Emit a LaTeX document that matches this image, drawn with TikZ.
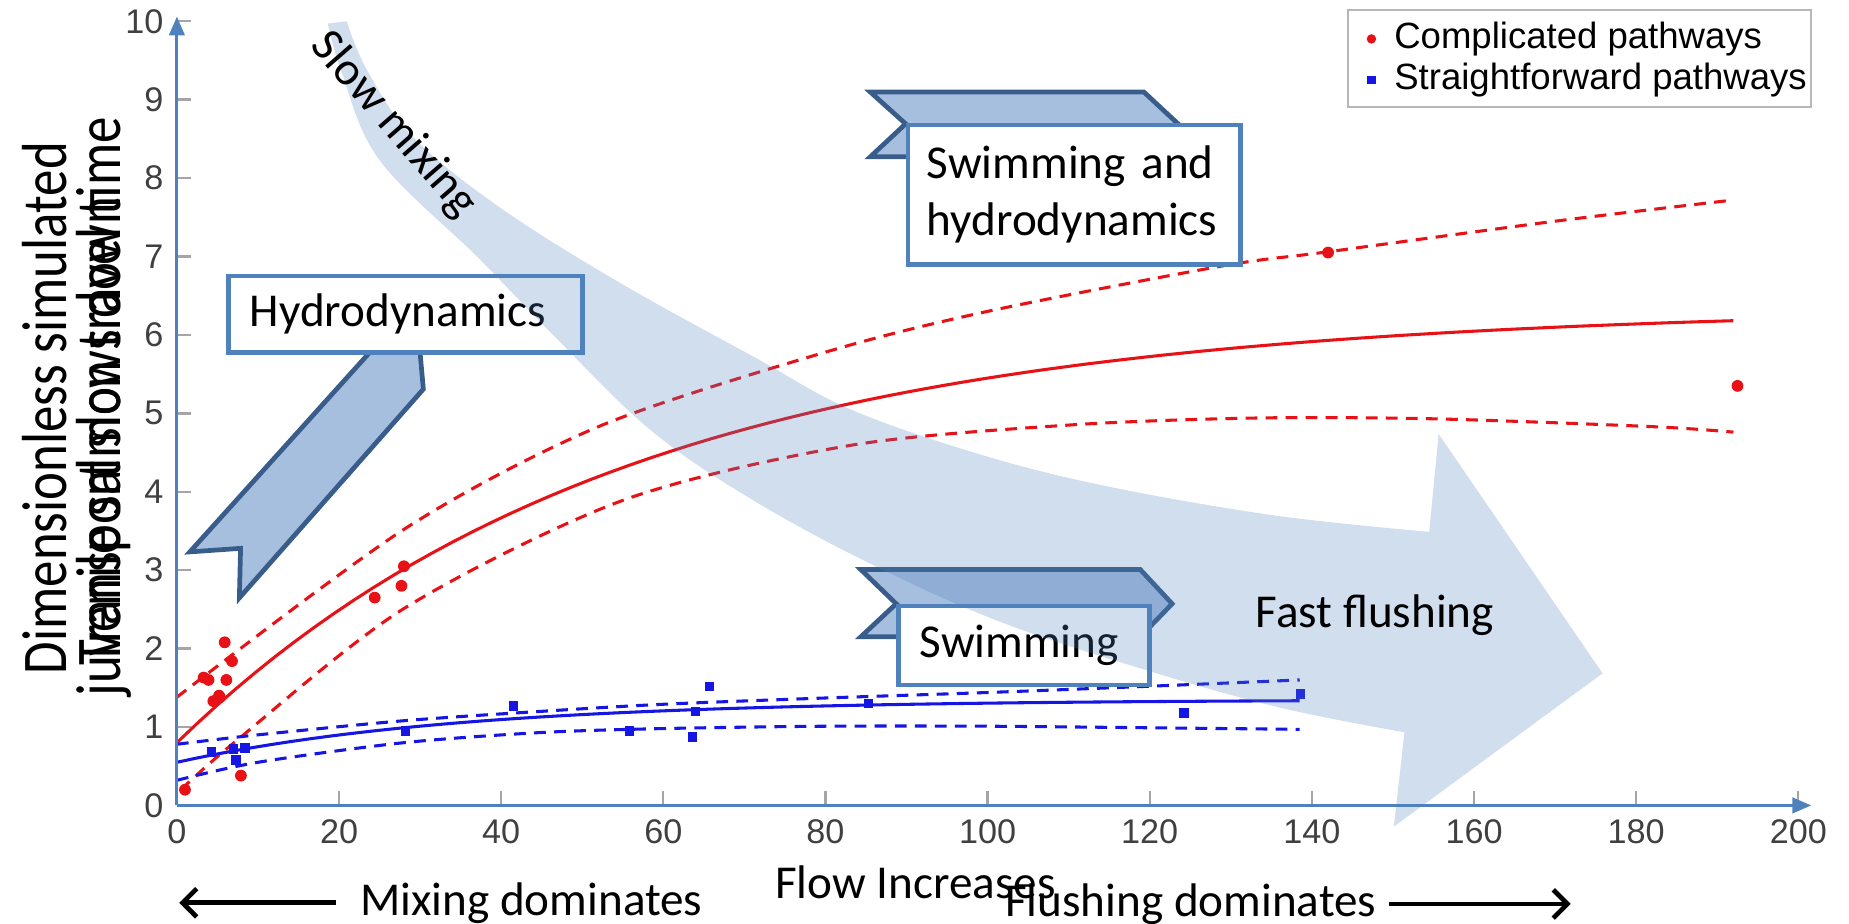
\documentclass[tikz,border=0pt]{standalone}
\usepackage{fontspec}
\setmainfont{Carlito}
\newfontfamily\axisfont{Liberation Sans}
\newfontfamily\ylabfont[FakeStretch=0.83]{Carlito}
\usetikzlibrary{arrows.meta,calc}
\definecolor{boxblue}{RGB}{79,129,189}
\definecolor{ribfill}{RGB}{167,191,222}
\definecolor{ribline}{RGB}{56,93,138}
\definecolor{fitred}{RGB}{232,18,22}
\definecolor{fitblue}{RGB}{22,22,228}
\definecolor{labgray}{RGB}{64,64,64}
\definecolor{tickgray}{RGB}{165,165,165}

\begin{document}
\begin{tikzpicture}[x=0.5pt, y=-0.5pt, >=Stealth,
  callout/.style={draw=boxblue, line width=2pt, fill=white, anchor=north west, align=left,
    font=\fontsize{20}{24}\selectfont, inner ysep=0pt},
  ribbon/.style={draw=ribline, fill=ribfill, line width=2pt},
  band/.style={fill=boxblue, fill opacity=0.26},
  bigtext/.style={font=\fontsize{20}{24}\selectfont, inner sep=0pt},
  ylab/.style={font=\ylabfont\fontsize{27}{28}\selectfont, rotate=90, inner sep=0pt},
  ticklab/.style={font=\axisfont\fontsize{14.5}{16}\selectfont, text=labgray, inner sep=0pt},
  legtext/.style={font=\axisfont\fontsize{15.5}{17}\selectfont, anchor=west, inner sep=0pt},
  fitcurve/.style={line width=1.3pt},
  confcurve/.style={line width=1.3pt, dash pattern=on 5pt off 3.5pt},
  dominate/.style={line width=2pt, -{Straight Barb[length=6pt,width=12pt]}}]
  \useasboundingbox (0,0) rectangle (1568,783);

  % plot area in data units
  \begin{scope}[shift={(150,683)}, x=3.4375pt, y=33.25pt]
    \draw[tickgray, line width=1pt] (0,0) -- (200,0) (0,0) -- (0,10);
    \foreach \v in {0,20,...,200} {
      \draw[tickgray, line width=1pt] (\v,0) -- ++(0,0.18);
      \node[ticklab, anchor=north] (xt\v) at (\v,-0.18) {\v};
    }
    \foreach \v in {0,...,10} {
      \draw[tickgray, line width=1pt] (0,\v) -- ++(1.75,0);
      \node[ticklab, anchor=east] (yt\v) at (-1.6,\v) {\v};
    }
    % complicated pathways
    \draw[fitred, fitcurve] plot[domain=0:192, samples=80] (\x, {6.35-5.55*exp(-\x/55)});
    \draw[fitred, confcurve] plot[smooth] coordinates {(0,1.38) (28,3.52) (52,4.83) (80,5.78)
      (100,6.3) (129,6.88) (142,7.06) (170,7.45) (192,7.72)};
    \draw[fitred, confcurve] plot[smooth] coordinates {(0.5,0.2) (7.4,0.83) (28,2.51) (55,3.89)
      (83,4.59) (110,4.85) (133,4.94) (155,4.93) (182,4.83) (192,4.76)};
    \foreach \px/\py in {1/0.2, 3.3/1.63, 3.9/1.6, 4.5/1.33, 5.2/1.4, 5.3/1.38, 5.9/2.08, 6.1/1.6,
      6.8/1.84, 7.9/0.38, 24.4/2.65, 27.7/2.8, 28/3.05, 142/7.05, 192.5/5.35}
      \fill[fitred] (\px,\py) circle (2.5pt);
    % straightforward pathways
    \draw[fitblue, fitcurve] plot[domain=0:138.5, samples=60] (\x, {1.35-0.8*exp(-\x/35)});
    \draw[fitblue, confcurve] plot[smooth] coordinates {(0,0.78) (10,0.9) (28,1.08) (45,1.2)
      (60,1.29) (80,1.37) (100,1.44) (120,1.52) (138.5,1.6)};
    \draw[fitblue, confcurve] plot[smooth] coordinates {(0,0.32) (10,0.55) (28,0.8) (45,0.93)
      (60,0.98) (80,1.01) (100,1.01) (120,0.99) (138.5,0.97)};
    \foreach \px/\py in {4.3/0.68, 7/0.72, 7.3/0.58, 8.4/0.73, 28.2/0.95, 41.5/1.27, 55.8/0.95,
      63.6/0.87, 64/1.2, 65.7/1.52, 85.3/1.3, 124.2/1.18, 138.6/1.42}
      \fill[fitblue] (\px,\py) ++(-2pt,-2pt) rectangle ++(4pt,4pt);
  \end{scope}

  % axes
  \coordinate (origin) at (150,683);
  \coordinate (ytop) at (150,14);
  \coordinate (xend) at (1536,683);
  \draw[boxblue, line width=1.3pt, -{Triangle[length=8pt,width=6.5pt]}] (origin) -- (ytop);
  \draw[boxblue, line width=1.3pt, -{Triangle[length=8pt,width=6.5pt]}] (origin) -- (xend);

  % legend
  \node[draw=tickgray!80, line width=0.8pt, fill=white, anchor=north west, minimum width=196.5pt,
    minimum height=41pt, inner sep=0pt] (legend) at (1142,8) {};
  \fill[fitred] (1163,33) circle (2pt);
  \node[legtext] (legred) at (1182,33) {Complicated pathways};
  \fill[fitblue] (1163,68) ++(-1.75pt,-1.75pt) rectangle ++(3.5pt,3.5pt);
  \node[legtext] (legblue) at (1182,68) {Straightforward pathways};

  % ribbons behind the callouts
  \draw[ribbon] (326,285) -- (161,468) -- (204,465) -- (203,507) -- (359,330) -- (355,285) -- cycle;
  \draw[ribbon] (738,78) -- (970,78) -- (999,105) -- (970,133) -- (738,133) -- (768,105) -- cycle;
  \draw[ribbon] (730,483) -- (967,483) -- (994,512) -- (967,540) -- (730,540) -- (760,512) -- cycle;

  \node[callout, text width=132pt, inner xsep=9pt, minimum height=32.5pt] (hydro) at (192,232) {Hydrodynamics};
  \node[callout, text width=125pt, inner xsep=8pt, minimum height=59pt] (swimhydro) at (768,104) {Swimming and\\hydrodynamics};
  \node[callout, text width=88.5pt, inner xsep=9pt, minimum height=33.5pt] (swim) at (760,512) {Swimming};

  % big curved arrow from slow mixing to fast flushing
  \fill[band] plot[smooth, tension=0.6] coordinates {(294,18) (311,59) (350,116) (424,176) (526,240)
      (640,303) (721,347) (830,385) (937,412) (1080,437) (1212,451)}
    -- (1220,368) -- (1359,571) -- (1182,701) -- (1191,621)
    -- plot[smooth, tension=0.6] coordinates {(1191,621) (1085,600) (971,568) (850,528) (744,481)
      (640,425) (552,365) (470,285) (407,220) (322,136) (290,62) (278,20)} -- cycle;

  \node[bigtext, rotate=-49] (slow) at (334,106) {Slow mixing};
  \node[bigtext] (fast) at (1166,522) {Fast flushing};

  % axis titles
  \node[ylab, anchor=base] (ylabA) at (56,346) {Dimensionless simulated};
  \node[ylab, anchor=base] (ylabB) at (102,345) {juvenile salmon travel time};
  \node[ylab, anchor=base west] (transport) at (102,565) {Transport slows down};

  \node[bigtext, anchor=base west] (flow) at (657,762) {Flow Increases};
  \node[bigtext, anchor=base west] (mixdom) at (305,776) {Mixing dominates};
  \node[bigtext, anchor=base west] (flushdom) at (852,777) {Flushing dominates};
  \coordinate (mixend) at (152,0);
  \coordinate (flushend) at (1332,0);
  \draw[dominate] ([xshift=-10pt]mixdom.west) -- (mixdom.west -| mixend);
  \draw[dominate] ([xshift=5pt]flushdom.east) -- (flushdom.east -| flushend);
\end{tikzpicture}
\end{document}
